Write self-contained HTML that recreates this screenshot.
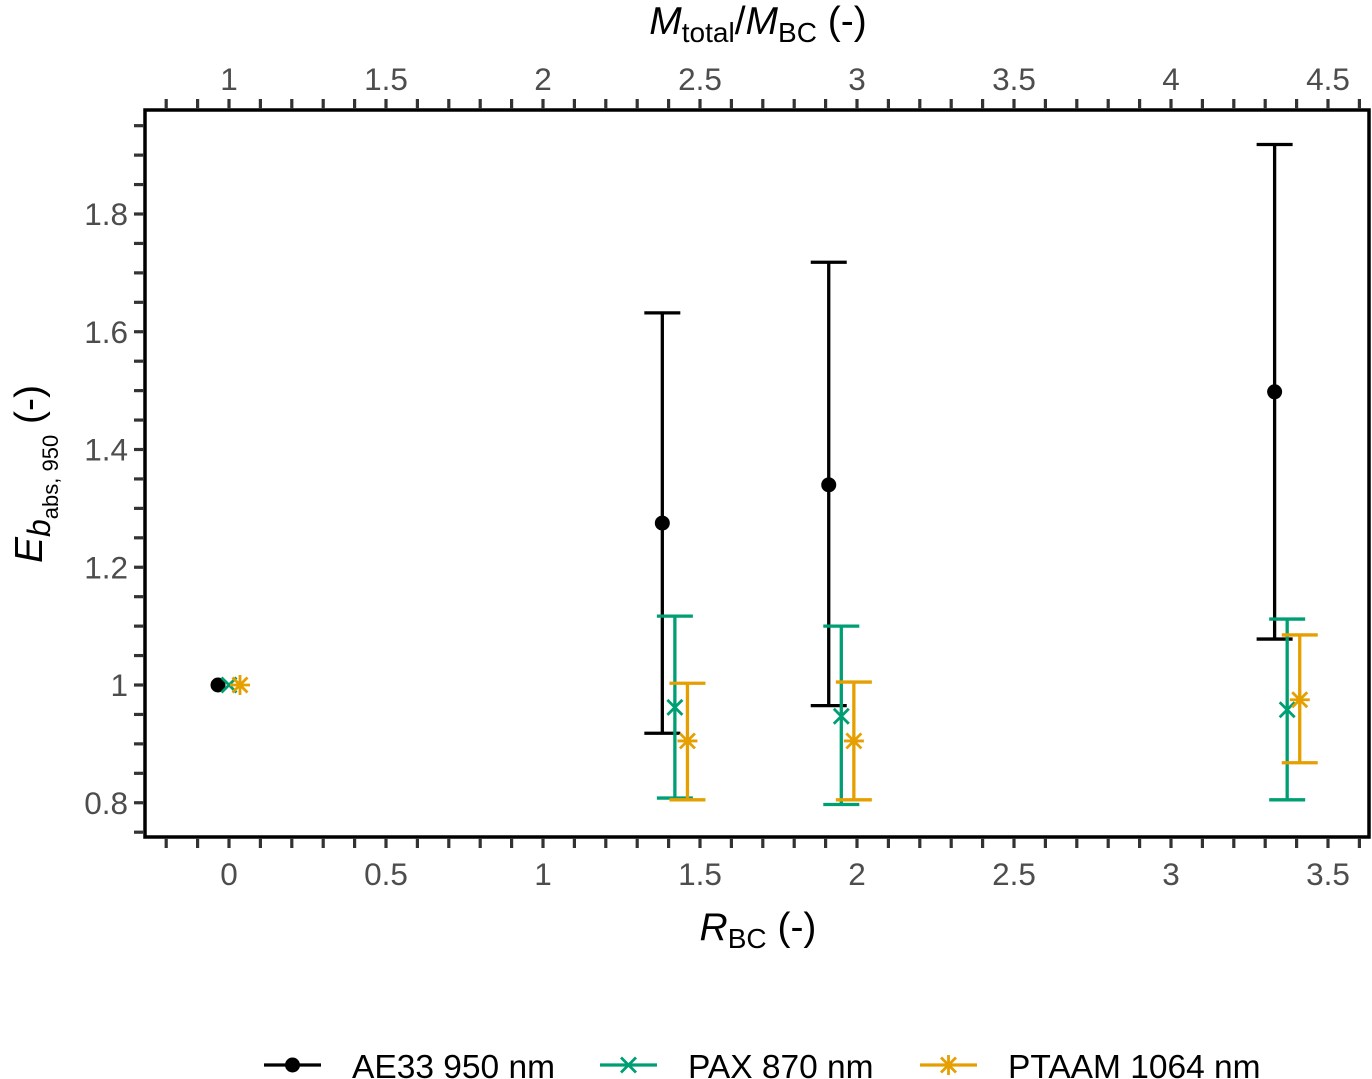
<!DOCTYPE html>
<html><head><meta charset="utf-8"><style>
html,body{margin:0;padding:0;background:#fff;}
svg{display:block;font-family:"Liberation Sans",sans-serif;}
</style></head><body>
<svg id="chart" width="1372" height="1079"></svg>
<script>
const categories = ["R0","R1","R2","R3"];
const aeX = [-0.035, 1.38, 1.91, 3.33];
const aeY = [1.0, 1.275, 1.34, 1.498];
const aeLo = [null, 0.918, 0.965, 1.078];
const aeHi = [null, 1.632, 1.718, 1.918];
const paxX = [0.0, 1.42, 1.95, 3.37];
const paxY = [1.0, 0.962, 0.947, 0.958];
const paxLo = [null, 0.808, 0.797, 0.805];
const paxHi = [null, 1.117, 1.100, 1.112];
const ptX = [0.035, 1.46, 1.99, 3.41];
const ptY = [1.0, 0.905, 0.905, 0.975];
const ptLo = [null, 0.805, 0.805, 0.868];
const ptHi = [null, 1.003, 1.005, 1.085];
const xTickLabels = ["0","0.5","1","1.5","2","2.5","3","3.5"];
const topTickLabels = ["1","1.5","2","2.5","3","3.5","4","4.5"];
const yTickLabels = ["0.8","1","1.2","1.4","1.6","1.8"];

const svg = document.getElementById('chart');
const NS = 'http://www.w3.org/2000/svg';
const L=145, R=1369, T=110, B=837;
const sx = v => 229 + v*314;
const sy = v => 685 - (v-1)*588.75;
function mk(tag, attrs, parent){const e=document.createElementNS(NS,tag);for(const k in attrs)e.setAttribute(k,attrs[k]);(parent||svg).appendChild(e);return e;}

const panel = mk('rect',{x:L,y:T,width:R-L,height:B-T,fill:'none',stroke:'#000','stroke-width':3.5});



const tg = mk('g',{stroke:'#333','stroke-width':3.2});


for(let i=-2;i<=36;i++){const x=sx(i/10);
  mk('line',{x1:x,x2:x,y1:B+1,y2:B+11},tg);
  mk('line',{x1:x,x2:x,y1:T-1,y2:T-11},tg);}
for(let i=15;i<=39;i++){const y=sy(i*0.05);
  mk('line',{x1:L-1,x2:L-11,y1:y,y2:y},tg);}

function txt(s,x,y,attrs,name){const t=mk('text',Object.assign({x:x,y:y,'font-size':31.5,fill:'#4d4d4d','text-anchor':'middle'},attrs||{}));t.textContent=s;
  
  return t;}
xTickLabels.forEach((s,i)=>txt(s,sx(i*0.5),885,{},'x-tick-label'));
topTickLabels.forEach((s,i)=>txt(s,sx(i*0.5),90,{},'top-tick-label'));
yTickLabels.forEach((s,i)=>txt(s,128,sy(0.8+i*0.2)+11,{'text-anchor':'end'},'y-tick-label'));

const xt = mk('text',{x:758,y:940,'font-size':39,'text-anchor':'middle',fill:'#000'});
xt.innerHTML='<tspan font-style="italic">R</tspan><tspan font-size="28" dy="8">BC</tspan><tspan dy="-8"> (-)</tspan>';


const tt = mk('text',{x:758,y:34,'font-size':39,'text-anchor':'middle',fill:'#000'});
tt.innerHTML='<tspan font-style="italic">M</tspan><tspan font-size="28" dy="8">total</tspan><tspan dy="-8">/</tspan><tspan font-style="italic">M</tspan><tspan font-size="28" dy="8">BC</tspan><tspan dy="-8"> (-)</tspan>';


const yt = mk('text',{x:0,y:0,'font-size':39,'text-anchor':'middle',fill:'#000',transform:'translate(42,474) rotate(-90)'});
yt.innerHTML='<tspan font-style="italic">E</tspan><tspan font-style="italic" font-size="32" dy="8">b</tspan><tspan font-size="22" dy="8">abs, 950</tspan><tspan dy="-16"> (-)</tspan>';



function marker(type,x,y,c,g){
  if(type==='dot'){mk('circle',{cx:x,cy:y,r:7.5,fill:c},g);}
  else if(type==='x'){const d=7.5;mk('path',{d:`M${x-d},${y-d}L${x+d},${y+d}M${x-d},${y+d}L${x+d},${y-d}`,stroke:c,'stroke-width':2.8,fill:'none'},g);}
  else {const d=10,e=7.5;mk('path',{d:`M${x-d},${y}L${x+d},${y}M${x},${y-d}L${x},${y+d}M${x-e},${y-e}L${x+e},${y+e}M${x-e},${y+e}L${x+e},${y-e}`,stroke:c,'stroke-width':2.8,fill:'none'},g);}
}
function series(name,X,Y,Lo,Hi,c,type){
  const g=mk('g',{});
  
  
  X.forEach((xv,i)=>{const x=sx(xv);
    if(Lo[i]!=null){const y1=sy(Lo[i]),y2=sy(Hi[i]);
      const eb=mk('path',{d:`M${x},${y1}L${x},${y2}M${x-18},${y1}L${x+18},${y1}M${x-18},${y2}L${x+18},${y2}`,stroke:c,'stroke-width':3.3,fill:'none'},g);
      
      }
    marker(type,x,sy(Y[i]),c,g);});
}
series('series-ae33',aeX,aeY,aeLo,aeHi,'#000','dot');
series('series-pax',paxX,paxY,paxLo,paxHi,'#009E73','x');
series('series-ptaam',ptX,ptY,ptLo,ptHi,'#E69F00','star');

const lg=mk('g',{});


const items=[['AE33 950 nm','#000','dot',264],['PAX 870 nm','#009E73','x',600],['PTAAM 1064 nm','#E69F00','star',920]];
items.forEach(it=>{const g=mk('g',{},lg);
  
  
  mk('line',{x1:it[3],x2:it[3]+57,y1:1065,y2:1065,stroke:it[1],'stroke-width':3.3},g);
  marker(it[2],it[3]+28.5,1065,it[1],g);
  const t=mk('text',{x:it[3]+88,y:1078,'font-size':33.5,fill:'#000'},g);t.textContent=it[0];});
</script>
</body></html>
